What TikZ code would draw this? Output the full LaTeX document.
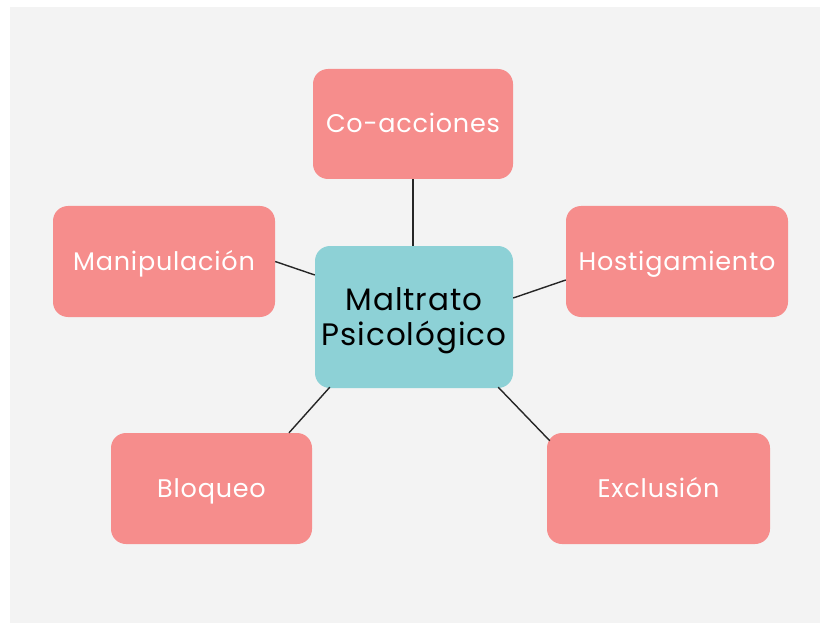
\documentclass[tikz,border=0pt]{standalone}
\usepackage{fontspec}
\setmainfont{Poppins}[LetterSpace=3]
\definecolor{bg}{RGB}{243,243,243}
\definecolor{pinkbox}{RGB}{246,141,140}
\definecolor{tealbox}{RGB}{141,209,214}
\tikzset{
  leaf/.style={rectangle, rounded corners=15pt, fill=pinkbox, draw=none, text=white,
    font=\fontsize{25.5}{30}\selectfont, inner sep=0pt, minimum height=111pt,
    text height=18pt, text depth=0pt},
  hub/.style={rectangle, rounded corners=15pt, fill=tealbox, draw=none,
    inner sep=0pt, minimum width=198pt, minimum height=142pt},
  hubtext/.style={text=black, font=\fontsize{31}{35}\selectfont, align=center, inner sep=0pt},
  link/.style={draw=black!85, line width=1.4pt}
}
\begin{document}
\begin{tikzpicture}[x=1pt,y=-1pt]
\useasboundingbox (0,0) rectangle (820,623);
\fill[white] (0,0) rectangle (820,623);
\fill[bg] (10,7) rectangle (820,623);
\node[leaf, minimum width=200pt, minimum height=110pt] (co) at (413,124) {Co-acciones};
\node[leaf, minimum width=222pt] (man) at (164,261.5) {Manipulación};
\node[leaf, minimum width=222pt] (host) at (677,261.5) {Hostigamiento};
\node[leaf, minimum width=201pt] (bloq) at (211.5,488.5) {Bloqueo};
\node[leaf, minimum width=223pt] (excl) at (658.5,488.5) {Exclusión};
\node[hub] (c) at (414,317) {};
\node[hubtext] (ctext) at ([yshift=-4pt]c.center) {Maltrato\\Psicológico};
\draw[link] (co.south) -- ([xshift=-1pt]c.north);
\draw[link] (man.east) -- ([yshift=42pt]c.west);
\draw[link] ([yshift=-18.5pt]host.west) -- ([yshift=19pt]c.east);
\draw[link] ([xshift=77.5pt]bloq.north) -- ([xshift=15pt,yshift=1pt]c.south west);
\draw[link] ([xshift=-15pt,yshift=1pt]c.south east) -- ([xshift=3pt,yshift=-8pt]excl.north west);
\end{tikzpicture}
\end{document}
